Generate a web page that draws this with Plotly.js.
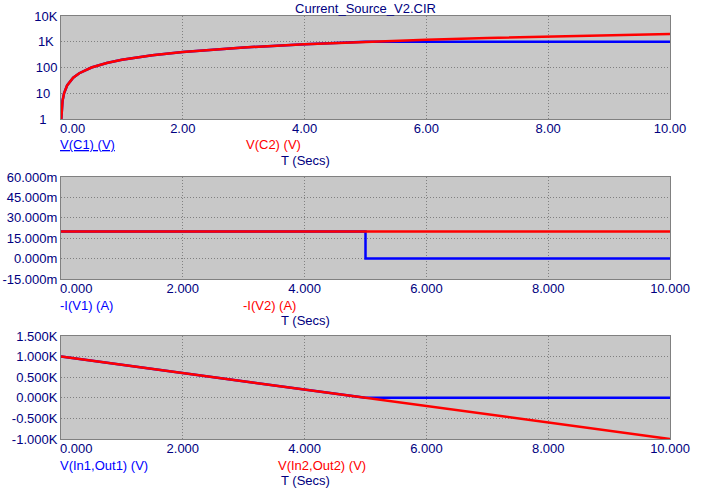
<!DOCTYPE html>
<html><head><meta charset="utf-8">
<script src="https://cdn.plot.ly/plotly-3.0.1.min.js"></script>
<style>body{margin:0;padding:0;background:#fff}#c{width:701px;height:492px}</style>
</head><body><div id="c"></div>
<script>
// Plot 1: capacitor voltages (log scale)
const t1 = [0.005, 0.025, 0.05, 0.1, 0.2, 0.3, 0.5, 0.75, 1, 1.5, 2, 3, 4, 5, 6, 7, 8, 9, 10];
const vC1 = [1, 5, 10, 20, 40, 60, 100, 150, 200, 300, 400, 600, 800, 1000, 1000, 1000, 1000, 1000, 1000];
const vC2 = [1, 5, 10, 20, 40, 60, 100, 150, 200, 300, 400, 600, 800, 1000, 1200, 1400, 1600, 1800, 2000];
// Plot 2: source currents
const t2a = [0, 5, 5, 10];
const iV1 = [0.02, 0.02, 0, 0];
const t2b = [0, 10];
const iV2 = [0.02, 0.02];
// Plot 3: source voltages
const t3a = [0, 5, 10];
const vInOut1 = [1000, 0, 0];
const t3b = [0, 10];
const vInOut2 = [1000, -1000];

const y1Ticks = [1, 10, 100, 1000, 10000];
const y1Text = ['1\u00a0\u00a0\u00a0', '10\u00a0\u00a0', '100', '1K\u00a0', '10K'];
const y2Ticks = [-0.015, 0, 0.015, 0.03, 0.045, 0.06];
const y2Text = ['-15.000m', '0.000m', '15.000m', '30.000m', '45.000m', '60.000m'];
const y3Ticks = [-1000, -500, 0, 500, 1000, 1500];
const y3Text = ['-1.000K', '-0.500K', '0.000K', '0.500K', '1.000K', '1.500K'];
const xTicks = [0, 2, 4, 6, 8, 10];
const x1Text = ['', '2.00', '4.00', '6.00', '8.00', '10.00'];
const x23Text = ['', '2.000', '4.000', '6.000', '8.000', '10.000'];
const x1First = '0.00';
const x23First = '0.000';

const FONT = 'Liberation Sans, Arial, sans-serif';
const NAVY = '#000080';
const RED = '#ff0000', BLUE = '#0000ff';
const W = 701, H = 492;
const xd = [61 / W, 670 / W];
function yd(top, bot) { return [1 - bot / H, 1 - top / H]; }

const lineW = 2.5;
const data = [
  {x: t1, y: vC1, xaxis: 'x', yaxis: 'y', mode: 'lines', line: {color: BLUE, width: lineW}},
  {x: t1, y: vC2, xaxis: 'x', yaxis: 'y', mode: 'lines', line: {color: RED, width: lineW}},
  {x: t2a, y: iV1, xaxis: 'x2', yaxis: 'y2', mode: 'lines', line: {color: BLUE, width: lineW}},
  {x: t2b, y: iV2, xaxis: 'x2', yaxis: 'y2', mode: 'lines', line: {color: RED, width: lineW}},
  {x: t3a, y: vInOut1, xaxis: 'x3', yaxis: 'y3', mode: 'lines', line: {color: BLUE, width: lineW}},
  {x: t3b, y: vInOut2, xaxis: 'x3', yaxis: 'y3', mode: 'lines', line: {color: RED, width: lineW}}
];

const GRID = {showgrid: true, gridcolor: '#808080', griddash: '1px,2px', gridwidth: 1,
  showline: true, mirror: true, linecolor: '#808080', linewidth: 1,
  ticks: '', zeroline: false, tickfont: {family: FONT, size: 13, color: NAVY}};

function xax(anchor, txt) {
  return Object.assign({domain: xd, anchor: anchor, range: [0, 10], tickvals: xTicks, ticktext: txt,
    ticklabelstandoff: -3}, GRID);
}
function yax(anchor, dom, extra) {
  return Object.assign({domain: dom, anchor: anchor}, GRID, extra);
}

function ann(text, x, y, color) {
  return {text: text, x: x / W, y: 1 - y / H, xref: 'paper', yref: 'paper', xanchor: 'left', yanchor: 'middle',
    showarrow: false, font: {family: FONT, size: 13, color: color}};
}
function firstTick(text, xref, y) {
  return {text: text, x: xTicks[0], xref: xref, y: 1 - y / H, yref: 'paper', xanchor: 'left', yanchor: 'middle',
    xshift: -3, showarrow: false, font: {family: FONT, size: 13, color: NAVY}};
}

const layout = {
  width: W, height: H, margin: {l: 0, r: 0, t: 0, b: 0},
  paper_bgcolor: '#ffffff', plot_bgcolor: '#c8c8c8', showlegend: false,
  title: {text: 'Current_Source_V2.CIR', x: 365.5 / W, xanchor: 'center', y: 1 - 8 / H, yanchor: 'middle',
    font: {family: FONT, size: 13, color: NAVY}},
  xaxis: xax('y', x1Text),
  yaxis: yax('x', yd(16, 119), {type: 'log', range: [0, 4], tickvals: y1Ticks, ticktext: y1Text}),
  xaxis2: xax('y2', x23Text),
  yaxis2: yax('x2', yd(177, 279), {range: [-0.015, 0.06], tickvals: y2Ticks, ticktext: y2Text}),
  xaxis3: xax('y3', x23Text),
  yaxis3: yax('x3', yd(336, 439), {range: [-1000, 1500], tickvals: y3Ticks, ticktext: y3Text}),
  annotations: [
    firstTick(x1First, 'x', 128),
    firstTick(x23First, 'x2', 288),
    firstTick(x23First, 'x3', 448),
    ann('<u>V(C1) (V)</u>', 58, 145, BLUE),
    ann('V(C2) (V)', 244, 145, RED),
    ann('T (Secs)', 279, 160, NAVY),
    ann('-I(V1) (A)', 58, 305, BLUE),
    ann('-I(V2) (A)', 241, 305, RED),
    ann('T (Secs)', 279, 320, NAVY),
    ann('V(In1,Out1) (V)', 58, 465, BLUE),
    ann('V(In2,Out2) (V)', 276, 465, RED),
    ann('T (Secs)', 279, 480, NAVY)
  ]
};

Plotly.newPlot('c', data, layout, {staticPlot: true, displayModeBar: false});
</script>
</body></html>
